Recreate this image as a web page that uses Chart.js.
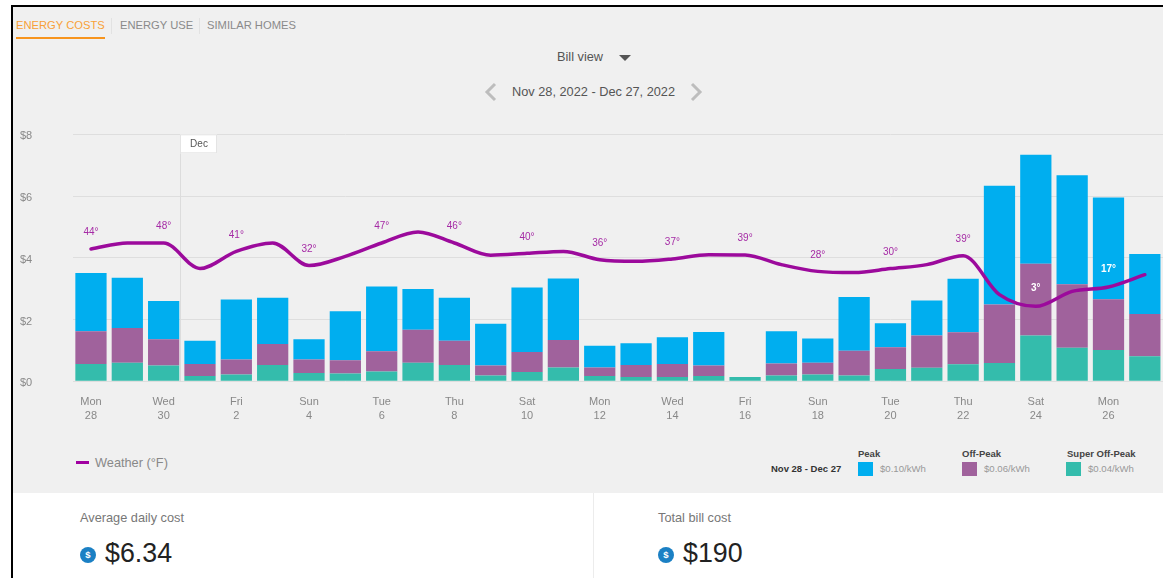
<!DOCTYPE html>
<html><head><meta charset="utf-8">
<style>
html,body{margin:0;padding:0;background:#fff;width:1163px;height:578px;overflow:hidden;font-family:"Liberation Sans",Arial,sans-serif}
.a{position:absolute;white-space:nowrap;line-height:1}
#panel{position:absolute;left:13px;top:7px;width:1150px;height:486px;background:#f0f0f0}
#bt{position:absolute;left:11px;top:5px;width:1152px;height:2px;background:#000}
#bl{position:absolute;left:11px;top:5px;width:2px;height:573px;background:#000}
canvas{position:absolute;left:0;top:0}
.sw{position:absolute;width:15px;height:14px}
.price{color:#999;font-size:9.6px}
.name{color:#444;font-size:9.5px;font-weight:700}
.icon{position:absolute;width:16px;height:16px;border-radius:50%;background:#1b80c4;color:#fff;font-size:9.5px;font-weight:700;line-height:16px;text-align:center}
</style></head><body>
<div id="panel"></div><div id="bt"></div><div id="bl"></div>
<div class="a" style="left:16px;top:20px;font-size:11.2px;color:#f8a038">ENERGY COSTS</div>
<div class="a" style="left:16px;top:37px;width:89px;height:2px;background:#f7941d"></div>
<div class="a" style="left:111px;top:18px;width:1px;height:16px;background:#e2e2e2"></div>
<div class="a" style="left:120px;top:20px;font-size:11.2px;color:#8a8a8a">ENERGY USE</div>
<div class="a" style="left:199px;top:18px;width:1px;height:16px;background:#e2e2e2"></div>
<div class="a" style="left:207px;top:20px;font-size:11.2px;color:#8a8a8a">SIMILAR HOMES</div>
<div class="a" style="left:557px;top:51px;font-size:12.75px;color:#555">Bill view</div>
<svg class="a" style="left:619px;top:55px" width="13" height="6"><path d="M0 0H12L6 6Z" fill="#555"/></svg>
<div class="a" style="left:512px;top:86px;font-size:12.75px;color:#555">Nov 28, 2022 - Dec 27, 2022</div>
<svg class="a" style="left:483px;top:82px" width="15" height="20"><path d="M12 2L4 10L12 18" fill="none" stroke="#bdbdbd" stroke-width="3"/></svg>
<svg class="a" style="left:689px;top:82px" width="15" height="20"><path d="M3 2L11 10L3 18" fill="none" stroke="#bdbdbd" stroke-width="3"/></svg>

<div class="a" style="left:76px;top:461px;width:13px;height:3px;background:#a000a0"></div>
<div class="a" style="left:95px;top:457px;font-size:12.75px;color:#888">Weather (°F)</div>
<div class="a" style="left:771px;top:464px;font-size:9.5px;font-weight:700;color:#333">Nov 28 - Dec 27</div>
<div class="a name" style="left:858px;top:449px">Peak</div>
<div class="sw" style="left:858px;top:462px;background:#00aeef"></div>
<div class="a price" style="left:880px;top:464px">$0.10/kWh</div>
<div class="a name" style="left:962px;top:449px">Off-Peak</div>
<div class="sw" style="left:962px;top:462px;background:#a0629c"></div>
<div class="a price" style="left:984px;top:464px">$0.06/kWh</div>
<div class="a name" style="left:1067px;top:449px">Super Off-Peak</div>
<div class="sw" style="left:1066px;top:462px;background:#34bcac"></div>
<div class="a price" style="left:1088px;top:464px">$0.04/kWh</div>

<div class="a" style="left:593px;top:493px;width:1px;height:85px;background:#ececec"></div>
<div class="a" style="left:80px;top:512px;font-size:12.75px;color:#777">Average daily cost</div>
<div class="icon" style="left:80px;top:547px">$</div>
<div class="a" style="left:105px;top:540px;font-size:26.8px;color:#222">$6.34</div>
<div class="a" style="left:658px;top:512px;font-size:12.75px;color:#777">Total bill cost</div>
<div class="icon" style="left:658px;top:547px">$</div>
<div class="a" style="left:683px;top:540px;font-size:26.8px;color:#222">$190</div>

<canvas id="c" width="1163" height="578"></canvas>
<script src="https://cdn.jsdelivr.net/npm/chart.js@4"></script>
<script>
const weekdays = ["Mon","Tue","Wed","Thu","Fri","Sat","Sun","Mon","Tue","Wed","Thu","Fri","Sat","Sun","Mon","Tue","Wed","Thu","Fri","Sat","Sun","Mon","Tue","Wed","Thu","Fri","Sat","Sun","Mon","Tue"];
const dayNumbers = [28,29,30,1,2,3,4,5,6,7,8,9,10,11,12,13,14,15,16,17,18,19,20,21,22,23,24,25,26,27];
const superOffPeak = [0.56,0.60,0.51,0.17,0.22,0.53,0.27,0.25,0.32,0.60,0.53,0.19,0.30,0.45,0.17,0.14,0.14,0.17,0.14,0.19,0.22,0.19,0.40,0.44,0.55,0.59,1.48,1.09,1.01,0.81];
const offPeak = [1.06,1.13,0.85,0.39,0.49,0.68,0.44,0.43,0.65,1.07,0.78,0.32,0.65,0.89,0.28,0.39,0.42,0.34,0,0.39,0.38,0.80,0.70,1.04,1.04,1.90,2.33,2.05,1.65,1.37];
const peak = [1.89,1.62,1.24,0.75,1.94,1.50,0.65,1.59,2.10,1.32,1.40,1.35,2.09,1.99,0.70,0.70,0.87,1.09,0,1.04,0.79,1.74,0.78,1.14,1.73,3.84,3.53,3.53,3.29,1.94];
const weatherLine = [44,48.4,48.4,29.9,42.3,48.4,32,38.7,48.4,56.4,48.4,39.5,40.9,42.3,36.3,35.1,36.8,39.9,39.7,32.7,27.8,26.9,29.8,32.7,39.2,10.9,2.4,13.3,16.5,25.4];
const weatherLabels = [44,null,48,null,41,null,32,null,47,null,46,null,40,null,36,null,37,null,39,null,28,null,30,null,39,null,3,null,17,null];
const onBarLabels = [26,28];
const yTicks = [0,2,4,6,8];
const monthMark = {index:3,text:"Dec"};
const FONT = '"Liberation Sans"';

const overlay = {
  id:'overlay',
  beforeDraw(ch){
    ch.scales.y.getLabelItems().forEach(it=>{it.options.translation[1]+=2;});
  },
  beforeDatasetsDraw(ch){
    const c=ch.ctx,x=ch.scales.x.getPixelForValue(monthMark.index-0.5)-1.5,a=ch.chartArea;
    c.save();
    c.strokeStyle='#dcdcdc';c.lineWidth=1;
    c.beginPath();c.moveTo(Math.round(x)+.5,a.top);c.lineTo(Math.round(x)+.5,a.bottom);c.stroke();
    c.restore();
  },
  afterDatasetsDraw(ch){
    const c=ch.ctx,x=Math.round(ch.scales.x.getPixelForValue(monthMark.index-0.5)-1.5),a=ch.chartArea;
    c.save();
    c.fillStyle='#fff';c.strokeStyle='#e4e4e4';c.lineWidth=1;
    c.fillRect(x,a.top,37,19);c.strokeRect(x+.5,a.top+.5,36,18);
    c.fillStyle='#555';c.font='10px '+FONT;c.textAlign='center';c.textBaseline='middle';
    c.fillText(monthMark.text,x+19,a.top+9.5);
    const pts=ch.getDatasetMeta(3).data;
    weatherLabels.forEach((v,i)=>{
      if(v==null)return;
      const white=onBarLabels.includes(i);
      c.font=(white?'700 ':'')+'10px '+FONT;
      c.fillStyle=white?'#fff':'#a52aa5';
      c.fillText(v+'°',pts[i].x,pts[i].y-(white?18:16.5));
    });
    c.restore();
  }
};
new Chart(document.getElementById('c'),{
  type:'bar',
  data:{labels:weekdays.map((d,i)=>[d,String(dayNumbers[i])]),datasets:[
    {label:'Super Off-Peak',data:superOffPeak,backgroundColor:'#34bcac',stack:'s',order:2},
    {label:'Off-Peak',data:offPeak,backgroundColor:'#a0629c',stack:'s',order:2},
    {label:'Peak',data:peak,backgroundColor:'#00aeef',stack:'s',order:2},
    {type:'line',label:'Weather (°F)',data:weatherLine,yAxisID:'y1',borderColor:'#9c0a9c',borderWidth:3.5,pointRadius:0,cubicInterpolationMode:'monotone',order:1,borderCapStyle:'round',borderJoinStyle:'round'}
  ]},
  plugins:[overlay],
  options:{
    responsive:false,animation:false,devicePixelRatio:1,
    categoryPercentage:0.86,barPercentage:1,
    layout:{padding:{left:20,top:134.3,right:0,bottom:0}},
    plugins:{legend:{display:false},tooltip:{enabled:false}},
    scales:{
      x:{stacked:true,
        grid:{display:false},border:{display:false},
        afterFit(s){s.height=196.7;},
        ticks:{autoSkip:false,maxRotation:0,minRotation:0,padding:6,color:'#888',font:{family:FONT,size:11,lineHeight:1.27},
          callback(v,i){return i%2===0?[weekdays[i],String(dayNumbers[i])]:'';}}},
      y:{stacked:true,min:0,max:8,
        afterFit(s){s.width=52.8;},
        afterBuildTicks(s){s.ticks=yTicks.map(v=>({value:v}));},
        grid:{color:'#dedede',drawTicks:false},border:{display:false},
        ticks:{crossAlign:'far',color:'#888',font:{family:FONT,size:11},callback:v=>'$'+v}},
      y1:{display:false,min:-52,max:127.3}
    }
  }
});
</script>
</body></html>
